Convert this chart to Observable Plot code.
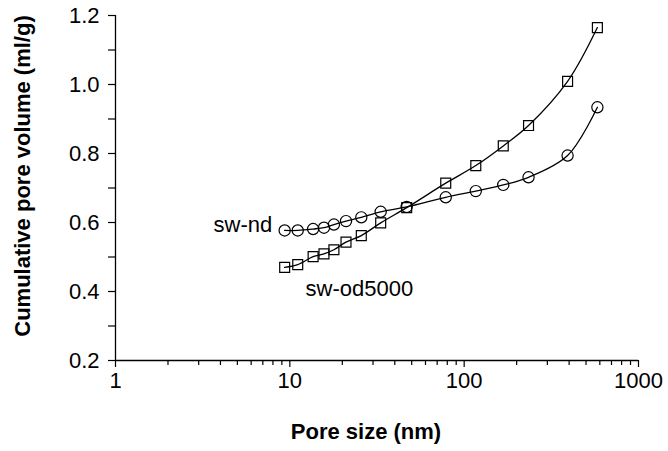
<!DOCTYPE html>
<html>
<head>
<meta charset="utf-8">
<script src="https://cdn.jsdelivr.net/npm/d3@7"></script>
<script src="https://cdn.jsdelivr.net/npm/@observablehq/plot@0.6"></script>
<style>
  html, body { margin: 0; padding: 0; background: #fff; }
</style>
</head>
<body>
<div id="chart"></div>
<script>
// Pore sizes (nm) shared by both series
const poreSize = [9.34, 11.1, 13.6, 15.7, 17.9, 21.0, 25.7, 33.2, 46.8, 78.4, 116.6, 167.6, 234, 392, 581];
// Cumulative pore volume (ml/g)
const swNd     = [0.577, 0.577, 0.581, 0.585, 0.594, 0.604, 0.615, 0.631, 0.645, 0.673, 0.691, 0.709, 0.731, 0.794, 0.934];
const swOd5000 = [0.470, 0.478, 0.501, 0.509, 0.521, 0.543, 0.562, 0.599, 0.643, 0.714, 0.765, 0.822, 0.881, 1.009, 1.165];
const seriesNames = ["sw-nd", "sw-od5000"];

// Axis ticks
const xMajor = [1, 10, 100, 1000];
const xMinor = [2,3,4,5,6,7,8,9,20,30,40,50,60,70,80,90,200,300,400,500,600,700,800,900];
const yMajor = [0.2, 0.4, 0.6, 0.8, 1.0, 1.2];
const yMinor = [0.3, 0.5, 0.7, 0.9, 1.1];

// Series labels (anchor positions in data units)
const labelText = ["sw-nd", "sw-od5000"];
const labelX = [7.93, 12.3];
const labelY = [0.594, 0.406];
const labelAnchor = ["end", "start"];

const xTitle = "Pore size (nm)";
const yTitle = "Cumulative pore volume (ml/g)";

const data = [];
poreSize.forEach((p, i) => {
  data.push({series: seriesNames[0], size: p, vol: swNd[i]});
  data.push({series: seriesNames[1], size: p, vol: swOd5000[i]});
});

const font = "'Liberation Sans', Arial, sans-serif";
const fs = 22;

const labelMarks = labelText.map((t, i) =>
  Plot.text([{text: t, x: labelX[i], y: labelY[i]}], {x: "x", y: "y", text: "text", textAnchor: labelAnchor[i], fontSize: fs, fill: "black"})
);

const chart = Plot.plot({
  width: 668,
  height: 451,
  marginLeft: 115,
  marginRight: 30,
  marginTop: 15,
  marginBottom: 91,
  style: {fontFamily: font, fontSize: fs + "px", color: "#000", background: "#fff", overflow: "visible"},
  x: {type: "log", domain: [1, 1000]},
  y: {domain: [0.2, 1.2]},
  symbol: {domain: seriesNames, range: ["circle", "square"]},
  marks: [
    Plot.axisX(xMajor, {tickSize: 7, tickPadding: 5, tickFormat: d => String(d), label: null, fontSize: fs, strokeWidth: 1.2}),
    Plot.axisX(xMinor, {tickSize: 5, tickFormat: () => "", label: null, strokeWidth: 1.2}),
    Plot.axisY(yMajor, {tickSize: 7, tickPadding: 9, tickFormat: d => d.toFixed(1), label: null, fontSize: fs, strokeWidth: 1.2}),
    Plot.axisY(yMinor, {tickSize: 7, tickFormat: () => "", label: null, strokeWidth: 1.2}),
    Plot.ruleY([0.2], {x1: 1, x2: 1000, stroke: "black", strokeWidth: 1.3}),
    Plot.ruleX([1], {y1: 0.2, y2: 1.2, stroke: "black", strokeWidth: 1.3}),
    Plot.line(data, {x: "size", y: "vol", z: "series", curve: "catmull-rom", stroke: "black", strokeWidth: 1.3}),
    Plot.dot(data, {x: "size", y: "vol", symbol: "series", r: 5.6, stroke: "black", strokeWidth: 1.2, fill: "none"}),
    ...labelMarks,
    Plot.text([xTitle], {frameAnchor: "bottom", dx: -11, dy: 78, fontWeight: "bold", fontSize: fs, fill: "black"}),
    Plot.text([yTitle], {frameAnchor: "left", textAnchor: "middle", dx: -93, dy: -12, rotate: -90, fontWeight: "bold", fontSize: fs, fill: "black"})
  ]
});
document.getElementById("chart").appendChild(chart);
</script>
</body>
</html>
